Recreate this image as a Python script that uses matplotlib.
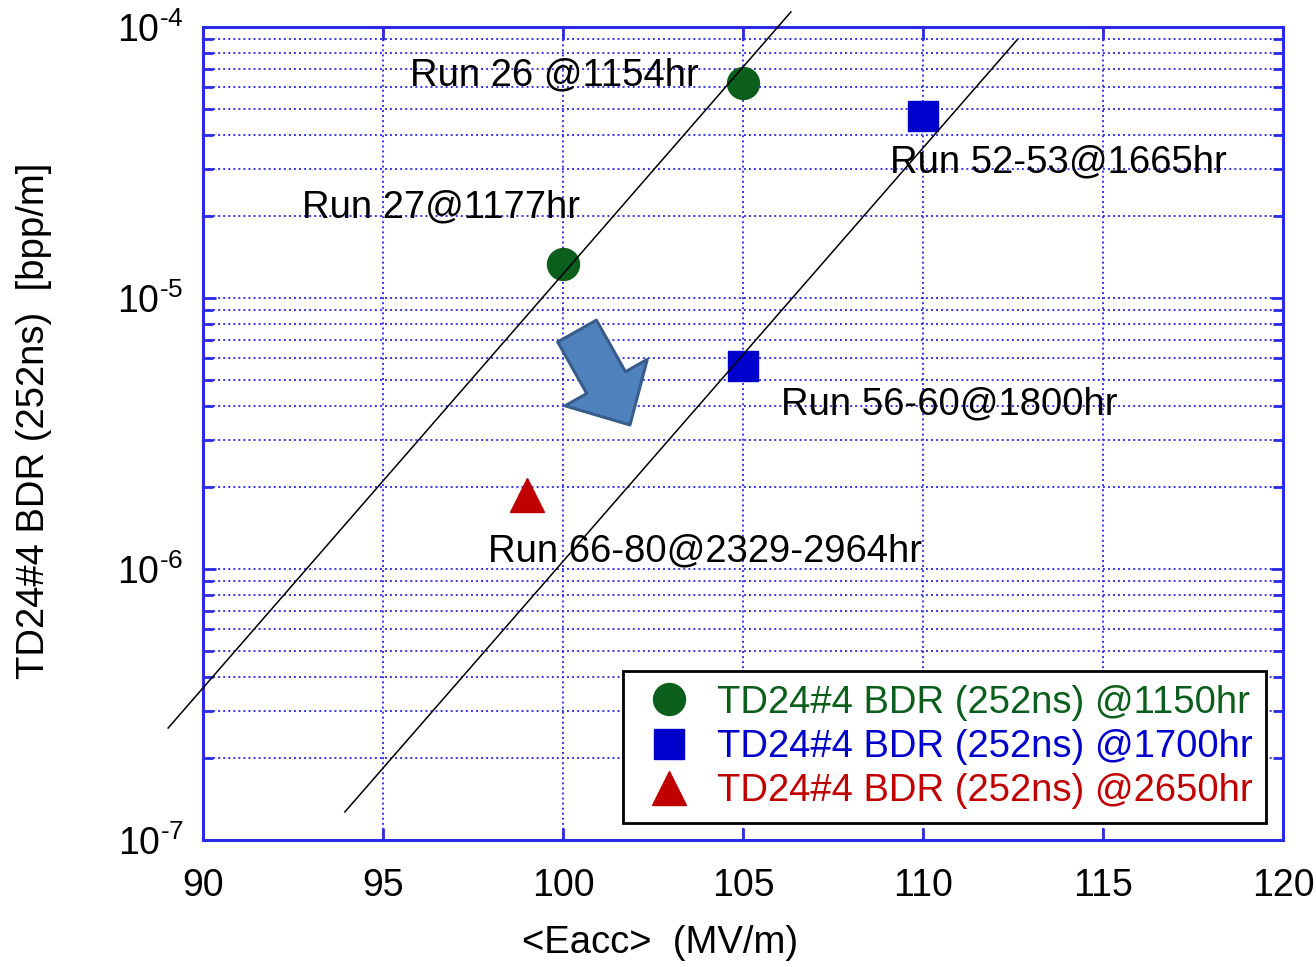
import matplotlib
matplotlib.use("Agg")
import matplotlib.pyplot as plt
from matplotlib.patches import FancyArrowPatch
from matplotlib.ticker import FixedLocator, LogLocator, NullFormatter

plt.rcParams['font.family'] = ['Liberation Sans', 'DejaVu Sans']
plt.rcParams['mathtext.fontset'] = 'custom'
plt.rcParams['mathtext.rm'] = 'Liberation Sans'
plt.rcParams['mathtext.default'] = 'regular'

# Breakdown-rate measurements
eacc_1150 = [100.0, 105.0]
bdr_1150 = [1.335e-5, 6.2e-5]
eacc_1700 = [105.0, 110.0]
bdr_1700 = [5.6e-6, 4.7e-5]
eacc_2650 = [99.0]
bdr_2650 = [1.87e-6]

series_labels = ["TD24#4 BDR (252ns) @1150hr",
                 "TD24#4 BDR (252ns) @1700hr",
                 "TD24#4 BDR (252ns) @2650hr"]
series_colors = ["#0b5e1b", "#0000cc", "#c00000"]
series_markers = ["o", "s", "^"]

# Exponential trend lines (endpoints)
trend1_x = [89.03, 106.33]
trend1_y = [2.59e-7, 1.136e-4]
trend2_x = [93.94, 112.61]
trend2_y = [1.27e-7, 8.95e-5]

# Run annotations
run_texts = ["Run 26 @1154hr", "Run 27@1177hr", "Run 52-53@1665hr",
             "Run 56-60@1800hr", "Run 66-80@2329-2964hr"]
run_x = [95.75, 92.75, 109.08, 106.06, 97.92]
run_y = [6.65e-5, 2.15e-5, 3.15e-5, 4.06e-6, 1.164e-6]

x_ticks = [90, 95, 100, 105, 110, 115, 120]
y_exponents = [-7, -6, -5, -4]

axis_blue = "#2a2ae6"
grid_blue = "#3535ee"

fig = plt.figure(figsize=(13.16, 9.67), dpi=100)
ax = fig.add_axes([0.1543, 0.1313, 0.8206, 0.8408])

ax.set_yscale('log')
ax.set_xlim(90, 120)
ax.set_ylim(1e-7, 1e-4)

ax.xaxis.set_major_locator(FixedLocator(x_ticks))
ax.set_xticklabels([str(v) for v in x_ticks])
ax.yaxis.set_major_locator(FixedLocator([10.0 ** e for e in y_exponents]))
ax.set_yticklabels([r'$10^{\text{-%d}}$' % (-e) for e in y_exponents])
ax.yaxis.set_minor_locator(LogLocator(base=10, subs=range(2, 10)))
ax.yaxis.set_minor_formatter(NullFormatter())

grid_style = dict(color=grid_blue, linestyle=(0, (1, 1.6)), linewidth=1.4)
ax.grid(True, which='major', axis='both', **grid_style)
ax.grid(True, which='minor', axis='y', **grid_style)
ax.set_axisbelow(True)

for sp in ax.spines.values():
    sp.set_color(axis_blue)
    sp.set_linewidth(2.2)

ax.tick_params(axis='both', which='major', direction='in', length=9, width=2,
               color=axis_blue, top=True, right=True, labelsize=27, pad=14)
ax.tick_params(axis='y', which='minor', direction='in', length=7, width=2,
               color=axis_blue, right=True)
ax.tick_params(axis='x', pad=20)

groups = [(eacc_1150, bdr_1150), (eacc_1700, bdr_1700), (eacc_2650, bdr_2650)]
sizes = [23, 22, 25]
handles = []
for (xs, ys), lab, col, mk, ms in zip(groups, series_labels, series_colors,
                                      series_markers, sizes):
    h, = ax.plot(xs, ys, linestyle='none', marker=mk, markersize=ms,
                 color=col, markeredgecolor=col, label=lab, zorder=3)
    handles.append(h)

ax.plot(trend1_x, trend1_y, color='black', linewidth=1.1, clip_on=False, zorder=4)
ax.plot(trend2_x, trend2_y, color='black', linewidth=1.1, clip_on=False, zorder=4)

for t, x, y in zip(run_texts, run_x, run_y):
    ax.text(x, y, t, fontsize=27.5, ha='left', va='center', color='black', zorder=5)

arrow = FancyArrowPatch((100.39, 7.55e-6), (101.86, 3.40e-6),
                        arrowstyle='simple,head_length=35,head_width=68,tail_width=32',
                        mutation_scale=1, shrinkA=0, shrinkB=0,
                        facecolor='#4f81bd', edgecolor='#385d8a',
                        linewidth=2.2, zorder=4)
ax.add_patch(arrow)

leg = ax.legend(handles=handles, loc='lower right', fontsize=27.5, numpoints=1,
                handlelength=1.7, handletextpad=0.4, borderaxespad=0.45,
                labelspacing=0.22, borderpad=0.35, fancybox=False,
                framealpha=1, edgecolor='black')
leg.get_frame().set_linewidth(2)
for txt, col in zip(leg.get_texts(), series_colors):
    txt.set_color(col)

ax.set_xlabel('<Eacc>  (MV/m)', fontsize=27.5, labelpad=18)
ax.xaxis.set_label_coords(0.423, -0.105)
ax.set_ylabel('TD24#4 BDR (252ns)  [bpp/m]', fontsize=27.5)
ax.yaxis.set_label_coords(-0.14, 0.515)

fig.savefig('out.png', dpi=100)
